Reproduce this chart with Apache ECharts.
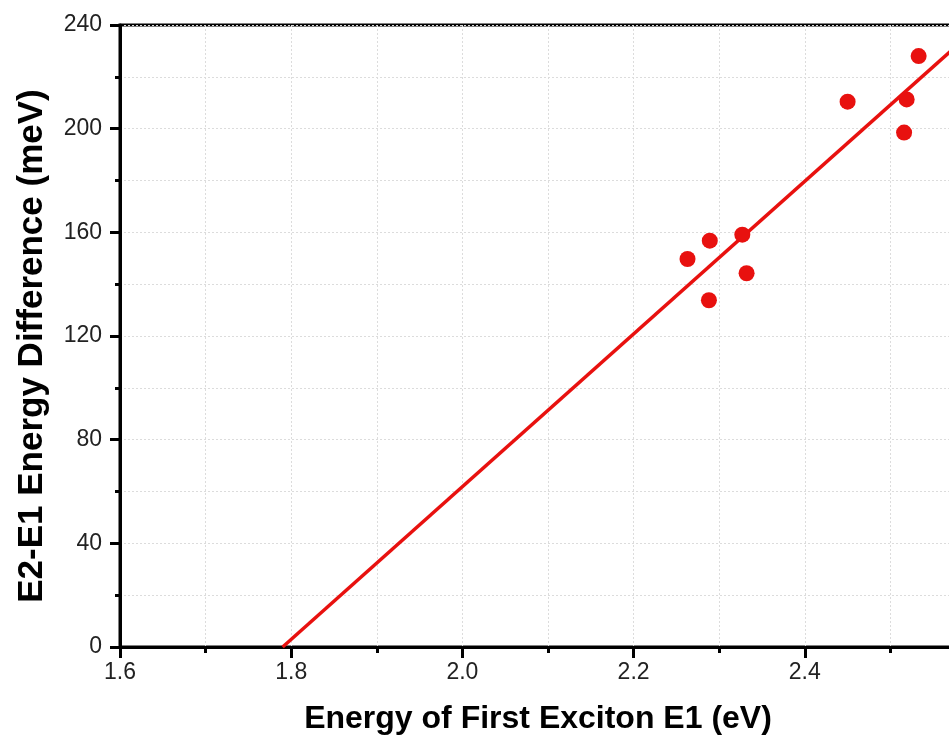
<!DOCTYPE html>
<html>
<head>
<meta charset="utf-8">
<script src="https://cdn.jsdelivr.net/npm/echarts@6/dist/echarts.min.js"></script>
<style>
  html, body { margin: 0; padding: 0; background: #fff; overflow: hidden; }
  #chart { width: 949px; height: 742px; }
</style>
</head>
<body>
<div id="chart"></div>
<script>
// measured points
const excitonE1 = [2.263, 2.289, 2.288, 2.327, 2.332, 2.450, 2.519, 2.516, 2.533]
const energyDiff = [149.7, 156.8, 133.8, 159.1, 144.2, 210.4, 211.3, 198.5, 228.0]

// linear fit line (end points)
const fitX = [1.79, 2.6]
const fitY = [0, 238.6]

const xTicks = [1.6, 1.8, 2.0, 2.2, 2.4, 2.6]
const yTicks = [0, 40, 80, 120, 160, 200, 240]

const red = '#e8110f'

const chart = echarts.init(document.getElementById('chart'))

const gridLine = {
  show: true,
  lineStyle: { color: '#dcdcdc', type: [2, 2], width: 1 }
}

const option = {
  backgroundColor: '#fff',
  animation: false,
  grid: {
    left: 120,
    top: 25,
    right: -27,
    bottom: 95,
    outerBoundsMode: 'none',
    containLabel: false,
    show: true,
    borderColor: '#000',
    borderWidth: 3
  },
  xAxis: {
    type: 'value',
    min: xTicks[0],
    max: xTicks[xTicks.length - 1],
    interval: 0.2,
    name: 'Energy of First Exciton E1 (eV)',
    nameLocation: 'middle',
    nameGap: 56,
    nameTextStyle: {
      fontFamily: 'Liberation Sans',
      fontWeight: 'bold',
      fontSize: 32,
      color: '#000',
      padding: [0, 20, 0, 0]
    },
    axisLine: { show: true, lineStyle: { color: '#000', width: 3 } },
    axisTick: { show: true, inside: false, length: 11, lineStyle: { color: '#000', width: 3 } },
    minorTick: { show: true, splitNumber: 2, length: 6, lineStyle: { color: '#000', width: 3 } },
    axisLabel: {
      margin: 14,
      fontFamily: 'Liberation Sans',
      fontSize: 23,
      color: '#222',
      showMaxLabel: false,
      formatter: v => v.toFixed(1)
    },
    splitLine: gridLine,
    minorSplitLine: gridLine
  },
  yAxis: {
    type: 'value',
    min: yTicks[0],
    max: yTicks[yTicks.length - 1],
    interval: 40,
    name: 'E2-E1 Energy Difference (meV)',
    nameLocation: 'middle',
    nameGap: 70,
    nameTextStyle: {
      fontFamily: 'Liberation Sans',
      fontWeight: 'bold',
      fontSize: 35,
      color: '#000',
      padding: [0, 20, 0, 0]
    },
    axisLine: { show: true, lineStyle: { color: '#000', width: 3 } },
    axisTick: { show: true, inside: false, length: 10, lineStyle: { color: '#000', width: 3 } },
    minorTick: { show: true, splitNumber: 2, length: 5, lineStyle: { color: '#000', width: 3 } },
    axisLabel: {
      margin: 18,
      fontFamily: 'Liberation Sans',
      fontSize: 23,
      color: '#222'
    },
    splitLine: gridLine,
    minorSplitLine: gridLine
  },
  series: [
    {
      type: 'line',
      data: fitX.map((x, i) => [x, fitY[i]]),
      symbol: 'none',
      lineStyle: { color: red, width: 3.5 },
      z: 2
    },
    {
      type: 'scatter',
      data: excitonE1.map((x, i) => [x, energyDiff[i]]),
      symbol: 'circle',
      symbolSize: 16,
      itemStyle: { color: red, opacity: 1 },
      z: 3
    }
  ]
}

chart.setOption(option)
</script>
</body>
</html>
